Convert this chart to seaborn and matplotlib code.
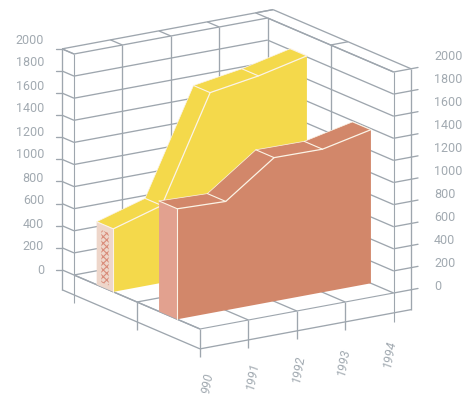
import matplotlib
matplotlib.use("Agg")
import matplotlib.pyplot as plt
import numpy as np
import seaborn as sns

years = [1990, 1991, 1992, 1993, 1994]
year_labels = ["990", "1991", "1992", "1993", "1994"]
yellow_values = [570, 700, 1640, 1710, 1810]
red_values = [1000, 985, 1300, 1295, 1390]
value_ticks = [0, 200, 400, 600, 800, 1000, 1200, 1400, 1600, 1800, 2000]

GRID = "#9ea6ae"
TEXT = "#a2aab1"
YELLOW = "#f4d94b"
RED = "#d2876a"
RED_SIDE = "#e2a18f"
PATTERN_BG = "#eed6ca"
PATTERN_FG = "#d98c7a"
SEAM = "#fbf3e6"

sns.set_theme(style="white")
plt.rcParams["font.family"] = ["Roboto", "DejaVu Sans"]
plt.rcParams["hatch.linewidth"] = 0.8


def project(year, value, depth):
    """Oblique projection of (year, value, depth) on to figure pixels."""
    t = np.asarray(year, dtype=float) - years[0]
    v = np.asarray(value, dtype=float)
    d = np.asarray(depth, dtype=float)
    return 74 + 48.4 * t + 126 * d, 275 - 9 * t + 54 * d - 0.1105 * v


fig = plt.figure(figsize=(4.75, 3.96), dpi=100)
ax = fig.add_axes([0, 0, 1, 1])
ax.set_xlim(0, 475)
ax.set_ylim(396, 0)
ax.axis("off")


def seg(p, q, lw=0.95, color=GRID, z=1):
    xs, ys = project([p[0], q[0]], [p[1], q[1]], [p[2], q[2]])
    ax.plot(xs, ys, color=color, lw=lw, solid_capstyle="butt", zorder=z)


Y0, Y1 = years[0], years[-1]
YO = Y1 + 0.36      # outer right edge of the frame
DO = -0.095         # outer rear edge of the frame
VB = -180           # underside of the frame
VT = value_ticks[-1]

# Value gridlines along the walls, with the outward ticks on both sides
for v in value_ticks:
    seg((Y0, v, 0), (Y1, v, 0))
    seg((Y1, v, 0), (Y1, v, 1))
    seg((Y1, v, 1), (YO, v, 1))
    seg((Y0, v, 0), (Y0, v, DO))
    xs, ys = project(Y0, v, DO)
    ax.plot([xs - 6, xs], [ys, ys], color=GRID, lw=0.95, zorder=1)
    xs, ys = project(YO, v, 1)
    ax.plot([xs, xs + 7], [ys, ys - 1.3], color=GRID, lw=0.95, zorder=1)

# Year lines on the rear wall, rising from the floor
for y in years[1:]:
    seg((y, 0, 0), (y, VT, 0))
    seg((y, VT, 0), (y, VT, DO))
seg((Y0, VT, 0), (Y0, VT, DO))

# Side wall posts and top rails
seg((Y1, 0, 0.5), (Y1, VT, 0.5))
seg((Y1, VT, 0.5), (YO, VT, 0.5))
seg((Y1, VT, DO), (YO, VT, DO))
seg((YO, VT, DO), (YO, VT, 1))
seg((Y0, VT, DO), (YO, VT, DO))
seg((Y1, VT, 0), (Y1, VT, 1))
seg((Y0, VT, 0), (Y0, -250, 0), lw=0.8)
seg((Y0, VB, DO), (Y0, VT, DO))
seg((YO, VB, 1), (YO, VT, 1))
seg((Y1, -260, 1), (Y1, VT, 1), lw=0.8)

# Floor: year lines, the mid-depth rail and the frame's lower edge
for y in years[:4]:
    seg((y, 0, 0), (y, 0, 1))
    seg((y, 0, 1), (y, -255, 1))
seg((Y0, 0, 0.5), (Y1, 0, 0.5))
seg((Y0, 0, 0.5), (Y0, -250, 0.5))
seg((Y0, 0, 1), (Y1, 0, 1), lw=0.8)
seg((Y0, 0, 0), (Y0, 0, 1))
seg((Y0, VB, DO), (Y0, VB, 1))
seg((Y0, VB, 1), (YO, VB, 1))


def ribbon(values, d_back, d_front, front, top, side, z, pattern=False):
    """Extruded area: top facets, end cap and front face, with pale seams."""
    vals = np.asarray(values, dtype=float)
    fx, fy = project(years, vals, d_front)
    bx, by = project(years, vals, d_back)
    # Top facets
    for i in range(len(years) - 1):
        ax.fill([bx[i], bx[i + 1], fx[i + 1], fx[i]],
                [by[i], by[i + 1], fy[i + 1], fy[i]],
                color=top, lw=0, zorder=z)
    # Front face
    gx, gy = project(years, 0 * vals, d_front)
    ax.fill(np.r_[fx, gx[::-1]], np.r_[fy, gy[::-1]], color=front, lw=0, zorder=z)
    # End cap
    hx, hy = project(years[0], 0, d_back)
    cx = [bx[0], fx[0], gx[0], hx]
    cy = [by[0], fy[0], gy[0], hy]
    ax.fill(cx, cy, color=PATTERN_BG if pattern else side, lw=0, zorder=z)
    if pattern:
        # Woven band down the middle of the cap
        inset = (d_front - d_back) * 0.28
        ix, iy = project(years[0], [vals[0] * 0.9, vals[0] * 0.9, 40, 40],
                         [d_back + inset, d_front - inset, d_front - inset, d_back + inset])
        ax.fill(ix, iy, facecolor=PATTERN_BG, edgecolor=PATTERN_FG, hatch="xxxxx",
                lw=0, zorder=z + 0.1)
    # Seams between the facets
    sns.lineplot(x=fx, y=fy, sort=False, estimator=None, color=SEAM, lw=0.9,
                 zorder=z + 0.5, ax=ax, legend=False)
    for i in range(len(years)):
        ax.plot([bx[i], fx[i]], [by[i], fy[i]], color=SEAM, lw=0.8, zorder=z + 0.5)
    ax.plot([fx[0], gx[0]], [fy[0], gy[0]], color=SEAM, lw=0.8, zorder=z + 0.5)
    ax.plot(bx, by, color=SEAM, lw=0.5, zorder=z + 0.5)


ribbon(yellow_values, 0.18, 0.312, YELLOW, YELLOW, YELLOW, 3, pattern=True)
ribbon(red_values, 0.675, 0.82, RED, RED, RED_SIDE, 4)

# Value labels on both sides; they sit on their own slightly wider spacing
for i, v in enumerate(value_ticks):
    ax.text(44, 270 - i * 23.0, str(v), ha="right", va="center",
            fontsize=9, color=TEXT)
    ax.text(434, 287 - i * 23.1, str(v), ha="left", va="center",
            fontsize=9, color=TEXT)

# Year labels, stepped along the front edge
for i, lab in enumerate(year_labels):
    ax.text(207 + i * 45.5, 383 - i * 7.2, lab, rotation=80, ha="center", va="center",
            fontsize=9, color=TEXT, style="italic", rotation_mode="anchor")

ax.set_xlim(0, 475)
ax.set_ylim(396, 0)
fig.savefig("out.png", dpi=100, facecolor="white")
